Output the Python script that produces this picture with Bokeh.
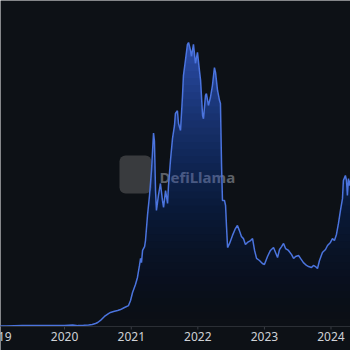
from datetime import datetime
import numpy as np
import pandas as pd
from bokeh.plotting import figure
from bokeh.models import Range1d, Label, BoxAnnotation, Span
from bokeh.core.properties import value
from bokeh.embed import file_html
from bokeh.resources import INLINE

# ---- data (total value locked, $B) ----
dates = [
    "2019-01-10", "2019-02-15", "2019-04-01", "2019-05-15", "2019-07-01", "2019-08-15",
    "2019-10-01", "2019-11-15", "2020-01-01", "2020-02-15", "2020-03-15", "2020-04-15",
    "2020-05-12", "2020-06-01", "2020-06-19", "2020-07-01", "2020-07-16", "2020-08-07",
    "2020-08-29", "2020-09-09", "2020-09-26", "2020-10-18", "2020-11-03", "2020-11-25",
    "2020-12-17", "2020-12-28", "2021-01-08", "2021-01-24", "2021-02-04", "2021-02-15",
    "2021-02-21", "2021-02-26", "2021-03-04", "2021-03-15", "2021-03-20", "2021-03-31",
    "2021-04-11", "2021-04-22", "2021-05-03", "2021-05-08", "2021-05-14", "2021-05-19",
    "2021-05-30", "2021-06-10", "2021-06-21", "2021-06-27", "2021-07-08", "2021-07-19",
    "2021-07-24", "2021-08-04", "2021-08-15", "2021-08-26", "2021-08-31", "2021-09-11",
    "2021-09-17", "2021-09-28", "2021-10-09", "2021-10-14", "2021-10-25", "2021-11-05",
    "2021-11-11", "2021-11-22", "2021-11-27", "2021-12-08", "2021-12-19", "2021-12-30",
    "2022-01-10", "2022-01-16", "2022-01-27", "2022-02-01", "2022-02-12", "2022-02-17",
    "2022-02-28", "2022-03-11", "2022-03-22", "2022-04-02", "2022-04-08", "2022-04-19",
    "2022-04-30", "2022-05-05", "2022-05-11", "2022-05-16", "2022-05-27", "2022-06-02",
    "2022-06-07", "2022-06-13", "2022-06-24", "2022-07-10", "2022-07-26", "2022-08-06",
    "2022-08-17", "2022-08-28", "2022-09-08", "2022-09-19", "2022-09-30", "2022-10-17",
    "2022-10-28", "2022-11-08", "2022-11-19", "2022-12-05", "2022-12-21", "2023-01-01",
    "2023-01-18", "2023-02-03", "2023-02-20", "2023-03-03", "2023-03-14", "2023-03-25",
    "2023-04-05", "2023-04-16", "2023-04-27", "2023-05-13", "2023-05-30", "2023-06-10",
    "2023-06-21", "2023-07-07", "2023-07-18", "2023-08-03", "2023-08-20", "2023-08-31",
    "2023-09-16", "2023-09-27", "2023-10-08", "2023-10-19", "2023-10-30", "2023-11-15",
    "2023-12-02", "2023-12-13", "2023-12-29", "2024-01-09", "2024-01-20", "2024-01-31",
    "2024-02-11", "2024-02-22", "2024-03-04", "2024-03-09", "2024-03-20", "2024-03-26",
    "2024-03-31", "2024-04-06", "2024-04-11", "2024-04-17", "2024-04-25",
]
tvl = [
    0.30, 0.35, 0.45, 0.55, 0.60, 0.55,
    0.60, 0.62, 0.65, 0.95, 0.55, 0.75,
    1.0, 1.3, 1.9, 2.5, 3.8, 6.3,
    8.1, 8.8, 9.4, 10.0, 10.6, 11.9,
    13.1, 16.3, 21.3, 26.3, 30.7, 38.2,
    42.6, 40.0, 47.6, 50.0, 53.8, 69.5,
    82.0, 97.6, 121.0, 116.0, 85.0, 72.6,
    82.0, 89.5, 78.9, 74.5, 85.0, 77.0,
    88.0, 104.0, 117.6, 125.8, 133.3, 135.0,
    127.0, 122.7, 144.6, 157.0, 166.5, 176.5,
    177.7, 172.7, 169.0, 176.5, 164.6, 171.5,
    160.0, 154.0, 132.0, 130.0, 144.6, 145.8,
    138.3, 143.3, 150.8, 162.0, 159.0, 147.7,
    141.4, 139.5, 100.7, 78.9, 78.9, 75.7,
    63.0, 49.4, 52.0, 57.0, 61.3, 63.2,
    60.0, 56.3, 55.0, 51.3, 52.6, 53.8,
    55.0, 47.6, 42.6, 41.3, 39.4, 38.8,
    43.8, 47.6, 49.4, 46.3, 43.2, 48.2,
    50.0, 52.0, 48.8, 47.6, 45.0, 42.6,
    43.8, 44.4, 42.6, 40.0, 38.2, 37.5,
    36.9, 38.2, 37.5, 36.3, 41.3, 46.3,
    48.2, 50.7, 52.6, 55.0, 53.8, 57.6,
    64.5, 72.6, 80.0, 91.4, 94.5, 91.4,
    82.0, 92.6, 88.2, 91.4, 89.0,
]
tick_years = [2019, 2020, 2021, 2022, 2023, 2024]
tick_labels = [str(y) for y in tick_years]
watermark_text = "DefiLlama"

# ---- styles / layout ----
BG = "#0d1116"
LINE = "#4b74de"
FILL = "#3d65d6"
LABEL_COLOR = "#cfd2d6"
W, H = 350, 350
AXIS_PX = 326          # pixel row of the zero line / axis line

x_start = datetime(2019, 1, 15)
x_end = datetime(2024, 4, 17)
y_top = 204.0
y_bottom = -(H - AXIS_PX) / AXIS_PX * y_top
y_span = y_top - y_bottom

def ms(d):
    return pd.Timestamp(d).value / 1e6

xs_ms, xe_ms = ms(x_start), ms(x_end)

def px_x(px):
    return xs_ms + px / W * (xe_ms - xs_ms)

def px_y(py):
    return y_top - py / H * y_span

dt = pd.to_datetime(dates)
vals = np.array(tvl)
tick_dt = pd.to_datetime([f"{y}-01-01" for y in tick_years])

p = figure(width=W, height=H, x_axis_type="datetime",
           x_axis_location=None, y_axis_location=None,
           x_range=Range1d(x_start, x_end), y_range=Range1d(y_bottom, y_top),
           output_backend="svg", toolbar_location=None,
           background_fill_color=BG, border_fill_color=BG,
           min_border=0)
p.outline_line_color = None
p.grid.visible = False

# watermark (beneath data)
p.add_layout(BoxAnnotation(left=px_x(119), right=px_x(151), top=px_y(155), bottom=px_y(193),
                           fill_color="#3e4043", fill_alpha=0.9, line_color=None,
                           border_radius=6, level="underlay"))
p.add_layout(Label(x=px_x(159), y=px_y(176), text=watermark_text, text_font="Noto Sans",
                   text_font_style="bold", text_font_size="15px", text_color="#5d6168",
                   text_baseline="middle", text_align="left", level="underlay"))

# gradient area fill
top = vals.max()
N = 40
levels = np.linspace(0, top, N + 1)

def A(h):
    return 0.8 * (h / top) ** 1.5

for k in range(N):
    a0, a1 = A(levels[k]), A(levels[k + 1])
    alpha = 1 - (1 - a1) / (1 - a0)
    p.varea(x=dt, y1=np.minimum(vals, levels[k]), y2=vals,
            fill_color=FILL, fill_alpha=alpha)

p.line(dt, vals, line_color=LINE, line_width=1.5)

# time axis: axis line, ticks and year labels
p.add_layout(Span(location=0, dimension="width", line_color="#2b2f35", line_width=1))
tick_len = 3 / H * y_span
p.segment(x0=tick_dt, y0=[0] * len(tick_dt), x1=tick_dt, y1=[-tick_len] * len(tick_dt),
          line_color="#3a3e45", line_width=1)
label_y = px_y(335.5)
p.text(x=tick_dt, y=[label_y] * len(tick_dt), text=tick_labels,
       text_font=value("Noto Sans"), text_font_size="12px", text_color=LABEL_COLOR,
       text_align="center", text_baseline="middle")

open("out.html", "w").write(file_html(p, INLINE))
